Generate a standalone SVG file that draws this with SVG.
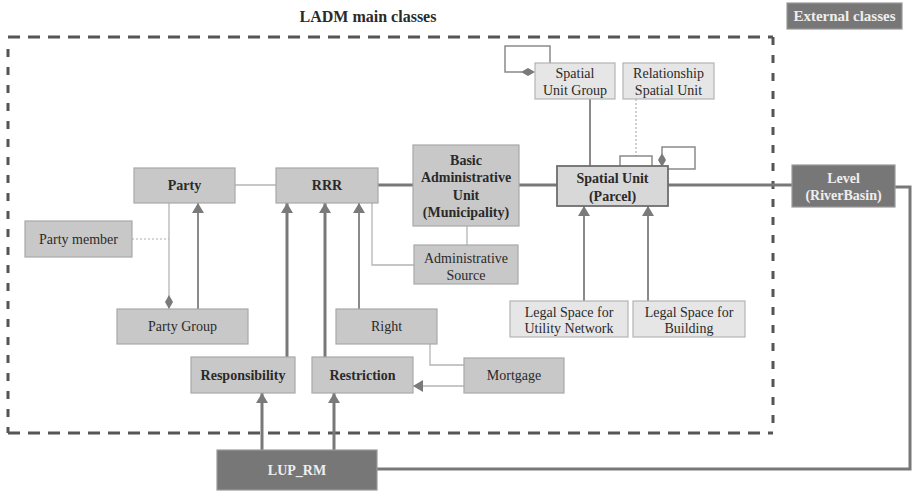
<svg xmlns="http://www.w3.org/2000/svg" width="914" height="492" viewBox="0 0 914 492">
  <style>
    .t { font-family: "Liberation Serif", "Times New Roman", serif; font-size: 14px; fill: #2a2a2a; text-anchor: middle; }
    .b { font-weight: bold; }
    .w { fill: #eeeeee; }
    .mid { fill: #c8c8c8; stroke: #a8a8a8; stroke-width: 1.2; }
    .lite { fill: #e6e6e6; stroke: #b4b4b4; stroke-width: 1.2; }
    .su { fill: #d8d8d8; stroke: #6e6e6e; stroke-width: 1.8; }
    .dark { fill: #777777; stroke: #9a9a9a; stroke-width: 1.2; }
    .thin { fill: none; stroke: #b4b4b4; stroke-width: 1.3; }
    .med { fill: none; stroke: #8a8a8a; stroke-width: 2; }
    .thick { fill: none; stroke: #787878; stroke-width: 3; }
    .dot { fill: none; stroke: #b0b0b0; stroke-width: 1.2; stroke-dasharray: 2 2; }
    .frame { fill: none; stroke: #555555; stroke-width: 3; }
  </style>
  <defs>
    <marker id="tri" viewBox="0 0 10 12" refX="10" refY="6" markerWidth="10" markerHeight="12" markerUnits="userSpaceOnUse" orient="auto">
      <path d="M0,0 L10,6 L0,12 Z" fill="#7a7a7a"/>
    </marker>
    <marker id="dia" viewBox="0 0 14 8" refX="14" refY="4" markerWidth="14" markerHeight="8" markerUnits="userSpaceOnUse" orient="auto">
      <path d="M0,4 L7,0 L14,4 L7,8 Z" fill="#7a7a7a"/>
    </marker>
  </defs>

  <!-- package frame -->
  <g id="frame">
    <line class="frame" x1="8" y1="37" x2="773" y2="37" stroke-dasharray="12 8"/>
    <line class="frame" x1="8" y1="433" x2="773" y2="433" stroke-dasharray="12 8"/>
    <line class="frame" x1="8" y1="49" x2="8" y2="433" stroke-dasharray="8 10"/>
    <line class="frame" x1="773" y1="37" x2="773" y2="433" stroke-dasharray="8 10"/>
    <text class="t b" x="368" y="22" style="font-size:16px">LADM main classes</text>
  </g>

  <!-- connectors -->
  <g id="connectors">
    <line class="thin" x1="235" y1="185" x2="276" y2="185"/>
    <line class="thick" x1="378" y1="185" x2="413" y2="185"/>
    <line class="thick" x1="519" y1="185" x2="557" y2="185"/>
    <line class="thick" x1="668" y1="185" x2="792" y2="185"/>
    <polyline class="thick" points="895,187 910,187 910,469 377,469"/>
    <line class="dot" x1="132" y1="239" x2="169" y2="239"/>
    <line class="thin" x1="169" y1="203" x2="169" y2="309" marker-end="url(#dia)"/>
    <line class="med" x1="198" y1="309" x2="198" y2="203" marker-end="url(#tri)"/>
    <line class="thick" x1="287" y1="357" x2="287" y2="203" marker-end="url(#tri)"/>
    <line class="thick" x1="325" y1="357" x2="325" y2="203" marker-end="url(#tri)"/>
    <line class="med" x1="359" y1="309" x2="359" y2="203" marker-end="url(#tri)"/>
    <polyline class="thin" points="372,203 372,265 414,265"/>
    <line class="thin" x1="467" y1="226" x2="467" y2="245"/>
    <polyline class="thin" points="430,344 430,365 464,365"/>
    <line class="thin" x1="464" y1="386" x2="413" y2="386" marker-end="url(#tri)"/>
    <line class="thick" x1="262" y1="450" x2="262" y2="393" marker-end="url(#tri)"/>
    <line class="thick" x1="334" y1="450" x2="334" y2="393" marker-end="url(#tri)"/>
    <line class="med" x1="590" y1="99" x2="590" y2="166"/>
    <polyline class="med" points="522,72 505,72 505,46 550,46 550,63" style="stroke-width:1.5"/>
    <line x1="535" y1="72" x2="521" y2="72" stroke="none" marker-end="url(#dia)"/>
    <line class="dot" x1="636" y1="99" x2="636" y2="156"/>
    <polyline class="med" points="620,166 620,156 652,156 652,166" style="stroke-width:1.5"/>
    <polyline class="med" points="668,169 695,169 695,147 662,147 662,154" style="stroke-width:1.5"/>
    <line x1="662" y1="153" x2="662" y2="167" stroke="none" marker-end="url(#dia)"/>
    <line class="med" x1="584" y1="301" x2="584" y2="206" marker-end="url(#tri)"/>
    <line class="med" x1="648" y1="301" x2="648" y2="206" marker-end="url(#tri)"/>
  </g>

  <!-- nodes -->
  <g id="external">
    <rect class="dark" x="787" y="3" width="115" height="26"/>
    <text class="t b w" x="844.5" y="21" style="font-size:15px">External classes</text>
  </g>
  <g id="party">
    <rect class="mid" x="134" y="168" width="101" height="35"/>
    <text class="t b" x="184.5" y="190">Party</text>
  </g>
  <g id="rrr">
    <rect class="mid" x="276" y="168" width="102" height="35"/>
    <text class="t b" x="327" y="190">RRR</text>
  </g>
  <g id="bau">
    <rect class="mid" x="413" y="145" width="106" height="81"/>
    <text class="t b" x="466" y="164.5">Basic</text>
    <text class="t b" x="466" y="182">Administrative</text>
    <text class="t b" x="466" y="199.5">Unit</text>
    <text class="t b" x="466" y="217">(Municipality)</text>
  </g>
  <g id="admin-source">
    <rect class="mid" x="414" y="245" width="104" height="39"/>
    <text class="t" x="466" y="262.5">Administrative</text>
    <text class="t" x="466" y="280">Source</text>
  </g>
  <g id="party-member">
    <rect class="mid" x="25" y="221" width="107" height="36"/>
    <text class="t" x="78.5" y="244">Party member</text>
  </g>
  <g id="party-group">
    <rect class="mid" x="117" y="309" width="131" height="35"/>
    <text class="t" x="182.5" y="331">Party Group</text>
  </g>
  <g id="right">
    <rect class="mid" x="336" y="309" width="101" height="35"/>
    <text class="t" x="386.5" y="331">Right</text>
  </g>
  <g id="responsibility">
    <rect class="mid" x="191" y="357" width="104" height="36"/>
    <text class="t b" x="243" y="380">Responsibility</text>
  </g>
  <g id="restriction">
    <rect class="mid" x="312" y="357" width="101" height="36"/>
    <text class="t b" x="362.5" y="380">Restriction</text>
  </g>
  <g id="mortgage">
    <rect class="mid" x="464" y="358" width="100" height="35"/>
    <text class="t" x="514" y="380">Mortgage</text>
  </g>
  <g id="spatial-unit-group">
    <rect class="lite" x="535" y="63" width="80" height="36"/>
    <text class="t" x="575" y="78">Spatial</text>
    <text class="t" x="575" y="95">Unit Group</text>
  </g>
  <g id="relationship-su">
    <rect class="lite" x="623" y="63" width="91" height="36"/>
    <text class="t" x="668.5" y="78">Relationship</text>
    <text class="t" x="668.5" y="95">Spatial Unit</text>
  </g>
  <g id="spatial-unit">
    <rect class="su" x="557" y="166" width="111" height="40"/>
    <text class="t b" x="612.5" y="183">Spatial Unit</text>
    <text class="t b" x="612.5" y="201">(Parcel)</text>
  </g>
  <g id="ls-utility">
    <rect class="lite" x="510" y="301" width="118" height="36"/>
    <text class="t" x="569" y="316.5">Legal Space for</text>
    <text class="t" x="569" y="333">Utility Network</text>
  </g>
  <g id="ls-building">
    <rect class="lite" x="633" y="301" width="112" height="36"/>
    <text class="t" x="689" y="316.5">Legal Space for</text>
    <text class="t" x="689" y="333">Building</text>
  </g>
  <g id="level">
    <rect class="dark" x="792" y="165" width="103" height="42"/>
    <text class="t b w" x="843.5" y="182.5">Level</text>
    <text class="t b w" x="843.5" y="200">(RiverBasin)</text>
  </g>
  <g id="lup-rm">
    <rect class="dark" x="217" y="450" width="160" height="40"/>
    <text class="t b w" x="297" y="475">LUP_RM</text>
  </g>
</svg>
